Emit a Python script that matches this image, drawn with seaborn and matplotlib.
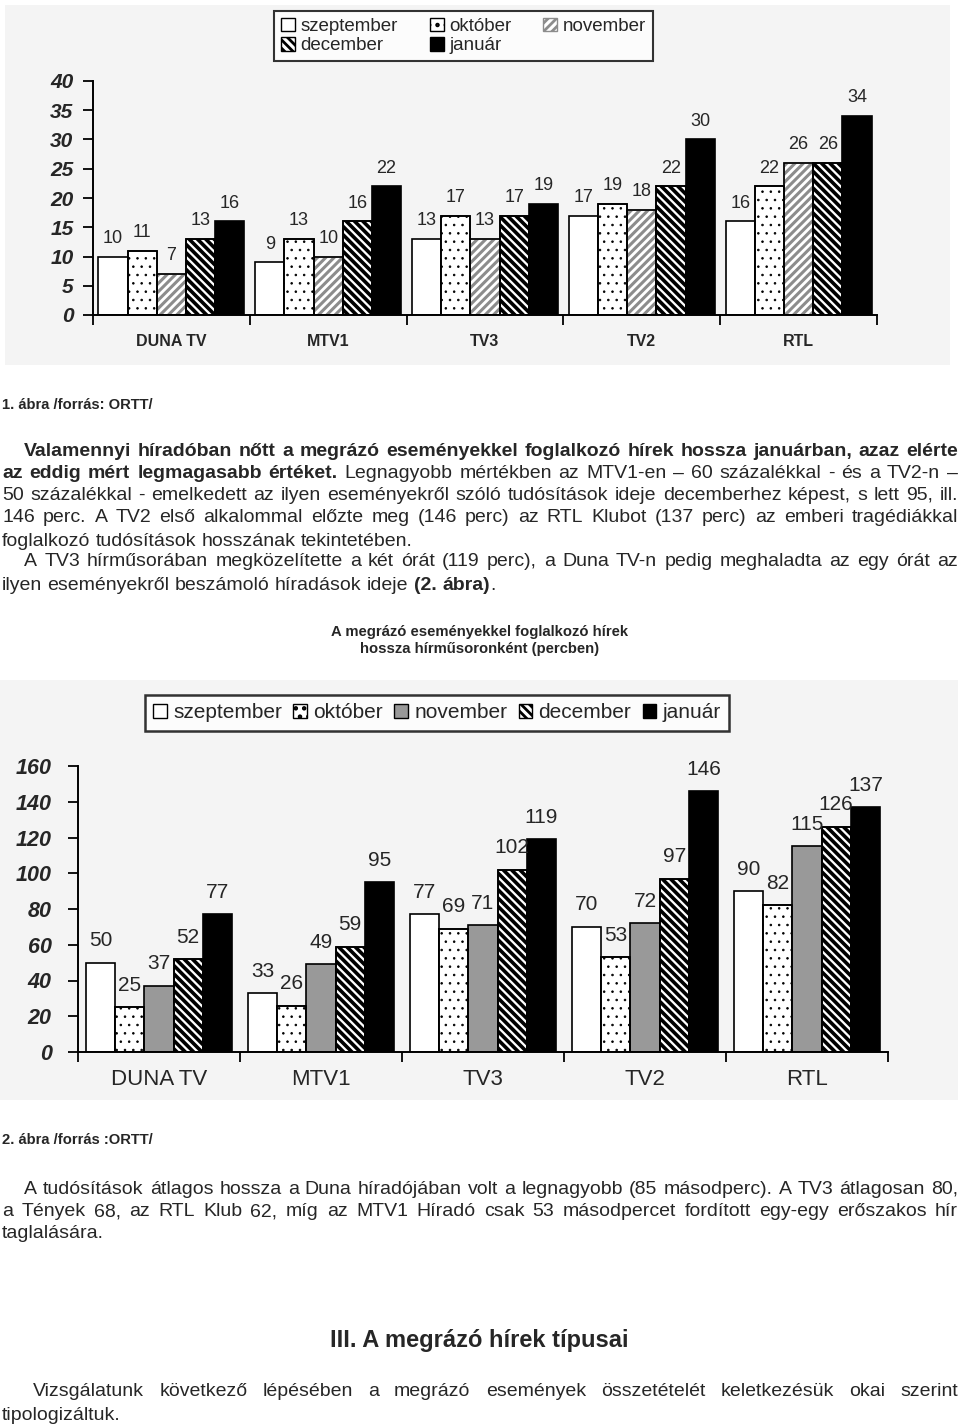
import numpy as np
import pandas as pd
import matplotlib
matplotlib.use("Agg")
import matplotlib.pyplot as plt
import seaborn as sns
from matplotlib.patches import Patch, Rectangle
from matplotlib.font_manager import FontProperties

# ---------------- data ----------------
channels = ["DUNA TV", "MTV1", "TV3", "TV2", "RTL"]
months = ["szeptember", "október", "november", "december", "január"]

c1_szeptember = [10, 9, 13, 17, 16]
c1_oktober = [11, 13, 17, 19, 22]
c1_november = [7, 10, 13, 18, 26]
c1_december = [13, 16, 17, 22, 26]
c1_januar = [16, 22, 19, 30, 34]
c1_yticks = [0, 5, 10, 15, 20, 25, 30, 35, 40]

c2_szeptember = [50, 33, 77, 70, 90]
c2_oktober = [25, 26, 69, 53, 82]
c2_november = [37, 49, 71, 72, 115]
c2_december = [52, 59, 102, 97, 126]
c2_januar = [77, 95, 119, 146, 137]
c2_yticks = [0, 20, 40, 60, 80, 100, 120, 140, 160]

caption1 = "1. ábra /forrás: ORTT/"
caption2 = "2. ábra /forrás :ORTT/"
title2 = ["A megrázó eseményekkel foglalkozó hírek", "hossza hírműsoronként (percben)"]
heading = "III. A megrázó hírek típusai"

# (y_center_px, x_start_px, segments[(text, bold)], justify)
para_lines = [
    (450, 24, [("Valamennyi híradóban nőtt a megrázó eseményekkel foglalkozó hírek hossza januárban, azaz elérte", True)], True),
    (471, 2, [("az eddig mért legmagasabb értéket. ", True), ("Legnagyobb mértékben az MTV1-en – 60 százalékkal - és a TV2-n –", False)], True),
    (493, 2, [("50 százalékkal - emelkedett az ilyen eseményekről szóló tudósítások ideje decemberhez képest, s lett 95, ill.", False)], True),
    (516, 2, [("146 perc. A TV2 első alkalommal előzte meg (146 perc) az RTL Klubot (137 perc) az emberi tragédiákkal", False)], True),
    (539, 2, [("foglalkozó tudósítások hosszának tekintetében.", False)], False),
    (560, 24, [("A TV3 hírműsorában megközelítette a két órát (119 perc), a Duna TV-n pedig meghaladta az egy órát az", False)], True),
    (583, 2, [("ilyen eseményekről beszámoló híradások ideje ", False), ("(2. ábra)", True), (".", False)], False),
    (1187, 24, [("A tudósítások átlagos hossza a Duna híradójában volt a legnagyobb (85 másodperc). A TV3 átlagosan 80,", False)], True),
    (1210, 2, [("a Tények 68, az RTL Klub 62, míg az MTV1 Híradó csak 53 másodpercet fordított egy-egy erőszakos hír", False)], True),
    (1232, 2, [("taglalására.", False)], False),
    (1390, 33, [("Vizsgálatunk következő lépésében a megrázó események összetételét keletkezésük okai szerint", False)], True),
    (1413, 2, [("tipologizáltuk.", False)], False),
]

# ---------------- styles ----------------
W, H = 960, 1425
BG = "#f4f4f4"
sns.set_style("white")
FAM = ["Liberation Sans", "DejaVu Sans"]
plt.rcParams["font.family"] = FAM
plt.rcParams["hatch.linewidth"] = 2.0
BODY_MAX = 14.0

styles1 = {
    "szeptember": dict(fc="white", hatch=None, hc="black", hlw=1.0),
    "október": dict(fc="white", hatch="..", hc="black", hlw=0.6),
    "november": dict(fc="white", hatch="////", hc="#8c8c8c", hlw=2.2),
    "december": dict(fc="white", hatch="\\\\\\\\", hc="black", hlw=2.6),
    "január": dict(fc="black", hatch=None, hc="black", hlw=1.0),
}
styles2 = {
    "szeptember": dict(fc="white", hatch=None, hc="black", hlw=1.0),
    "október": dict(fc="white", hatch="..", hc="black", hlw=0.6),
    "november": dict(fc="#999999", hatch=None, hc="black", hlw=1.0),
    "december": dict(fc="white", hatch="\\\\\\\\", hc="black", hlw=2.6),
    "január": dict(fc="black", hatch=None, hc="black", hlw=1.0),
}


def fp(size, bold=False, italic=False):
    return FontProperties(family=FAM, size=size,
                          weight="bold" if bold else "normal",
                          style="italic" if italic else "normal")


def set_hlw(p, lw):
    if hasattr(p, "set_hatch_linewidth"):
        p.set_hatch_linewidth(lw)
    else:
        p._hatch_linewidth = lw


fig = plt.figure(figsize=(W / 100, H / 100), dpi=100)
renderer = fig.canvas.get_renderer()


def tw(s, prop):
    w, h, d = renderer.get_text_width_height_descent(s, prop, ismath=False)
    return w


def fx(x):
    return x / W


def fy(y):
    return 1 - y / H


# background panels
fig.add_artist(Rectangle((fx(5), fy(365)), fx(945), 360 / H, transform=fig.transFigure,
                         fc=BG, ec="none", zorder=-10))
fig.add_artist(Rectangle((fx(0), fy(1100)), fx(958), 420 / H, transform=fig.transFigure,
                         fc=BG, ec="none", zorder=-10))


def draw_chart(ax, vals, styles, width, ymax, yticks, lab_size, lab_pad, xl_prop, xl_pad, yl_pad, yl_size):
    rows = [(c, m, v) for m in months for c, v in zip(channels, vals[m])]
    df = pd.DataFrame(rows, columns=["channel", "month", "value"])
    sns.barplot(data=df, x="channel", y="value", hue="month", order=channels, hue_order=months,
                palette={m: styles[m]["fc"] for m in months}, saturation=1, width=width, gap=0,
                edgecolor="black", linewidth=1.2, legend=False, errorbar=None, ax=ax)
    for m, cont in zip(months, ax.containers):
        st = styles[m]
        for p in cont.patches:
            if st["hatch"]:
                p.set_hatch(st["hatch"])
                p.set_edgecolor(st["hc"])
                set_hlw(p, st["hlw"])
                ax.add_patch(Rectangle(p.get_xy(), p.get_width(), p.get_height(), fill=False,
                                       ec="black", lw=1.2, zorder=p.get_zorder() + 0.1))
        ax.bar_label(cont, padding=lab_pad, fontsize=lab_size, family=FAM)
    ax.set_xlim(-0.5, 4.5)
    ax.set_ylim(0, ymax)
    ax.set_facecolor("none")
    for s in ["top", "right"]:
        ax.spines[s].set_visible(False)
    for s in ["left", "bottom"]:
        ax.spines[s].set_linewidth(1.4)
        ax.spines[s].set_color("black")
    ax.set_xlabel("")
    ax.set_ylabel("")
    ax.set_yticks(yticks)
    ax.set_yticklabels([str(t) for t in yticks])
    ax.tick_params(axis="y", length=7, width=1.3, pad=yl_pad, color="black", left=True)
    ax.set_xticks(range(len(channels)))
    ax.set_xticklabels(channels)
    ax.set_xticks(np.arange(-0.5, len(channels), 1), minor=True)
    ax.tick_params(axis="x", which="major", length=0, pad=xl_pad)
    ax.tick_params(axis="x", which="minor", length=7, width=1.3, color="black", bottom=True)
    ax.grid(False)
    for lbl in ax.get_yticklabels():
        lbl.set_fontproperties(fp(yl_size, True, True))
    for lbl in ax.get_xticklabels():
        lbl.set_fontproperties(xl_prop)


def legend_handles(styles):
    hs = {}
    for m in months:
        st = styles[m]
        hs[m] = Patch(facecolor=st["fc"], edgecolor=st["hc"] if st["hatch"] else "black",
                      hatch=st["hatch"], linewidth=1.0, label=m)
    return hs


# ---------------- chart 1 ----------------
ax1 = fig.add_axes([fx(93), fy(315), 784 / W, 234 / H])
vals1 = dict(zip(months, [c1_szeptember, c1_oktober, c1_november, c1_december, c1_januar]))
draw_chart(ax1, vals1, styles1, 0.93, 40, c1_yticks, 13, 7, fp(11.5, True), 14, 7, 15)

h1 = legend_handles(styles1)
order1 = ["szeptember", "december", "október", "január", "november"]
leg1 = fig.legend([h1[m] for m in order1], order1, ncol=3, loc="upper left",
                  bbox_to_anchor=(fx(274), fy(11)), frameon=True, fancybox=False,
                  prop=fp(13.5), handlelength=0.75, handleheight=0.75, handletextpad=0.3,
                  columnspacing=1.7, borderpad=0.35, labelspacing=0.1, borderaxespad=0)
leg1.get_frame().set_edgecolor("black")
leg1.get_frame().set_linewidth(1.5)
leg1.get_frame().set_facecolor("white")

# ---------------- chart 2 ----------------
ax2 = fig.add_axes([fx(78), fy(1052), 810 / W, 286 / H])
vals2 = dict(zip(months, [c2_szeptember, c2_oktober, c2_november, c2_december, c2_januar]))
draw_chart(ax2, vals2, styles2, 0.9, 160, c2_yticks, 15, 9, fp(16), 12, 12, 15.5)

h2 = legend_handles(styles2)
leg2 = fig.legend([h2[m] for m in months], months, ncol=5, loc="upper left",
                  bbox_to_anchor=(fx(145), fy(695)), frameon=True, fancybox=False,
                  prop=fp(15), handlelength=0.65, handleheight=0.65, handletextpad=0.3,
                  columnspacing=0.55, borderpad=0.4, borderaxespad=0)
leg2.get_frame().set_edgecolor("black")
leg2.get_frame().set_linewidth(1.8)
leg2.get_frame().set_facecolor("white")


# ---------------- text ----------------
def fit_size(s, target_w, bold=False, ref=10.0):
    return ref * target_w / tw(s, fp(ref, bold))


def tokenize(segs):
    words = []
    new_word = True
    for text, bold in segs:
        parts = text.split(" ")
        for i, p in enumerate(parts):
            if i > 0:
                new_word = True
            if p == "":
                continue
            if new_word or not words:
                words.append([(p, bold)])
            else:
                words[-1].append((p, bold))
            new_word = False
    return words


X_RIGHT = 958


def word_w(word, size):
    return sum(tw(t, fp(size, b)) for t, b in word)


def space_w(size):
    p = fp(size)
    return tw("a a", p) - tw("aa", p)


ref = 10.0
fits = []
for y, x0, segs, just in para_lines:
    if just:
        words = tokenize(segs)
        nat = sum(word_w(w, ref) for w in words) + space_w(ref) * (len(words) - 1)
        fits.append(ref * (X_RIGHT - x0) / nat)
body_size = min(BODY_MAX, min(fits) * 0.99)

for y, x0, segs, just in para_lines:
    words = tokenize(segs)
    widths = [word_w(w, body_size) for w in words]
    if just and len(words) > 1:
        gap = (X_RIGHT - x0 - sum(widths)) / (len(words) - 1)
    else:
        gap = space_w(body_size)
    x = x0
    for w, wd in zip(words, widths):
        cx = x
        for t, b in w:
            fig.text(fx(cx), fy(y), t, fontproperties=fp(body_size, b), ha="left", va="center_baseline")
            cx += tw(t, fp(body_size, b))
        x += wd + gap

# captions
cap_size = fit_size(caption1, 151, True)
fig.text(fx(2), fy(403), caption1, fontproperties=fp(cap_size, True), ha="left", va="center_baseline")
fig.text(fx(2), fy(1138), caption2, fontproperties=fp(cap_size, True), ha="left", va="center_baseline")

# chart 2 title
t_size = fit_size(title2[0], 299, True)
fig.text(fx(480), fy(630), title2[0], fontproperties=fp(t_size, True), ha="center", va="center_baseline")
fig.text(fx(480), fy(647), title2[1], fontproperties=fp(t_size, True), ha="center", va="center_baseline")

# heading
h_size = fit_size(heading, 298, True)
fig.text(fx(479), fy(1338), heading, fontproperties=fp(h_size, True), ha="center", va="center_baseline")

fig.savefig("out.png", dpi=100, facecolor="white")
